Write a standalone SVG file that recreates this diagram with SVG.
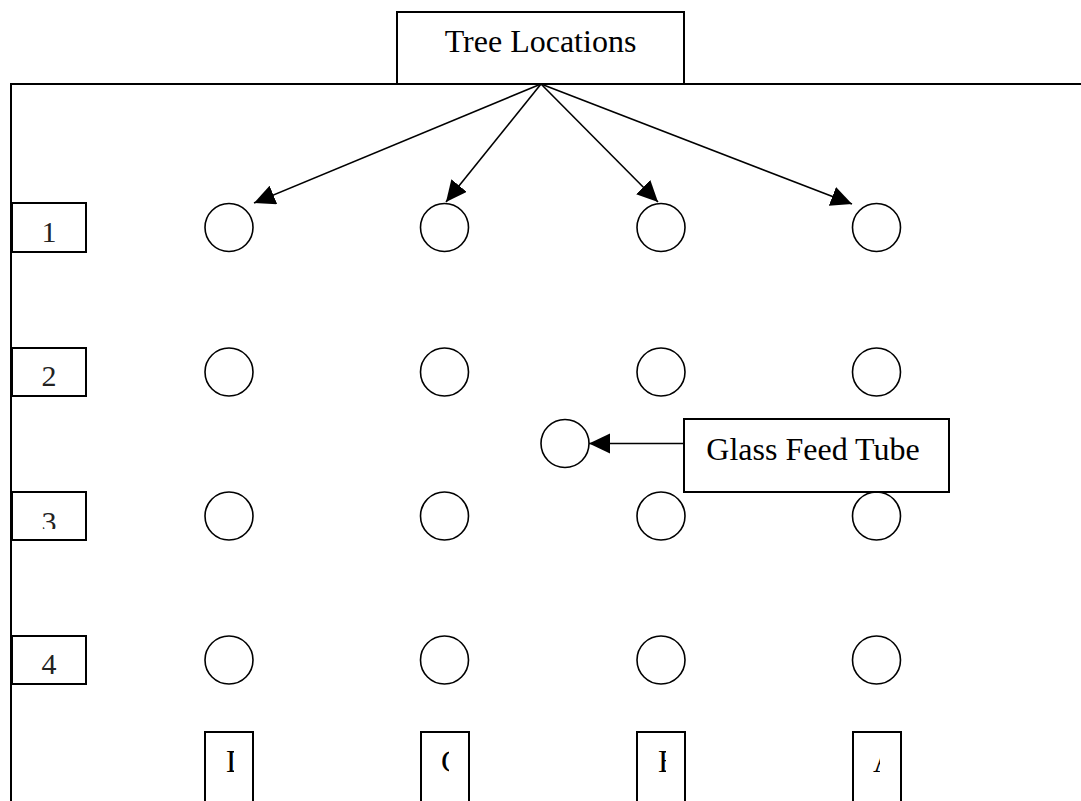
<svg xmlns="http://www.w3.org/2000/svg" width="1081" height="801" viewBox="0 0 1081 801">
<style>
.box{fill:#fff;stroke:#000;stroke-width:2}
.tree{fill:#fff;stroke:#000;stroke-width:1.6}
.lbl{font-family:"Liberation Serif","Times New Roman",serif;font-size:32px;fill:#000}
.num{font-family:"Liberation Serif","Times New Roman",serif;font-size:30px;fill:#222;text-anchor:middle}
.conn{stroke:#000;stroke-width:1.6;fill:none;marker-end:url(#ah)}
</style>
<defs>
<marker id="ah" markerUnits="userSpaceOnUse" markerWidth="22" markerHeight="22" refX="21" refY="10" orient="auto">
<path d="M0,0 L21,10 L0,20 z" fill="#000"/>
</marker>
<clipPath id="c3"><rect x="12" y="480" width="74" height="49"/></clipPath>
<clipPath id="cA"><rect x="224" y="740" width="10" height="50"/></clipPath>
<clipPath id="cB"><rect x="440" y="740" width="9" height="50"/></clipPath>
<clipPath id="cC"><rect x="656" y="740" width="10" height="50"/></clipPath>
<clipPath id="cD"><rect x="871" y="740" width="9" height="50"/></clipPath>
</defs>
<rect width="1081" height="801" fill="#fff"/>
<g id="frame"><path d="M11,801 V84 H1081" fill="none" stroke="#000" stroke-width="2"/></g>
<g id="tree-locations"><rect class="box" x="397" y="12" width="287" height="72"/><text class="lbl" x="540.5" y="52" text-anchor="middle">Tree Locations</text></g>
<g id="row1"><rect class="box" x="12" y="203" width="74" height="49"/><text class="num" x="49" y="242">1</text></g>
<g id="row2"><rect class="box" x="12" y="348" width="74" height="48"/><text class="num" x="49" y="386">2</text></g>
<g id="row3"><rect class="box" x="12" y="492" width="74" height="48"/><text class="num" x="49" y="532" clip-path="url(#c3)">3</text></g>
<g id="row4"><rect class="box" x="12" y="636" width="74" height="48"/><text class="num" x="49" y="674">4</text></g>
<g id="trees">
<circle class="tree" cx="229" cy="227.5" r="24"/><circle class="tree" cx="444.5" cy="227.5" r="24"/><circle class="tree" cx="661" cy="227.5" r="24"/><circle class="tree" cx="876.5" cy="227.5" r="24"/>
<circle class="tree" cx="229" cy="372" r="24"/><circle class="tree" cx="444.5" cy="372" r="24"/><circle class="tree" cx="661" cy="372" r="24"/><circle class="tree" cx="876.5" cy="372" r="24"/>
<circle class="tree" cx="229" cy="516" r="24"/><circle class="tree" cx="444.5" cy="516" r="24"/><circle class="tree" cx="661" cy="516" r="24"/><circle class="tree" cx="876.5" cy="516" r="24"/>
<circle class="tree" cx="229" cy="660" r="24"/><circle class="tree" cx="444.5" cy="660" r="24"/><circle class="tree" cx="661" cy="660" r="24"/><circle class="tree" cx="876.5" cy="660" r="24"/>
</g>
<g id="feed-tube"><circle class="tree" cx="565" cy="443.5" r="24"/></g>
<g id="glass-feed-tube"><rect class="box" x="684" y="419" width="265" height="73"/><text class="lbl" x="813" y="460" text-anchor="middle">Glass Feed Tube</text></g>
<g id="colD"><rect class="box" x="205" y="732" width="48" height="80"/><text class="lbl" x="226" y="772" clip-path="url(#cA)">D</text></g>
<g id="colC"><rect class="box" x="421" y="732" width="48" height="80"/><text class="lbl" x="441" y="772" clip-path="url(#cB)">C</text></g>
<g id="colB"><rect class="box" x="637" y="732" width="48" height="80"/><text class="lbl" x="658" y="772" clip-path="url(#cC)">B</text></g>
<g id="colA"><rect class="box" x="853" y="732" width="48" height="80"/><text class="lbl" x="873" y="772" clip-path="url(#cD)">A</text></g>
<g id="connectors">
<line class="conn" x1="541" y1="84" x2="254" y2="203"/>
<line class="conn" x1="541" y1="84" x2="446" y2="202"/>
<line class="conn" x1="541" y1="84" x2="658" y2="202"/>
<line class="conn" x1="541" y1="84" x2="852" y2="204"/>
<line class="conn" x1="684" y1="443.5" x2="589" y2="443.5"/>
</g>
</svg>
